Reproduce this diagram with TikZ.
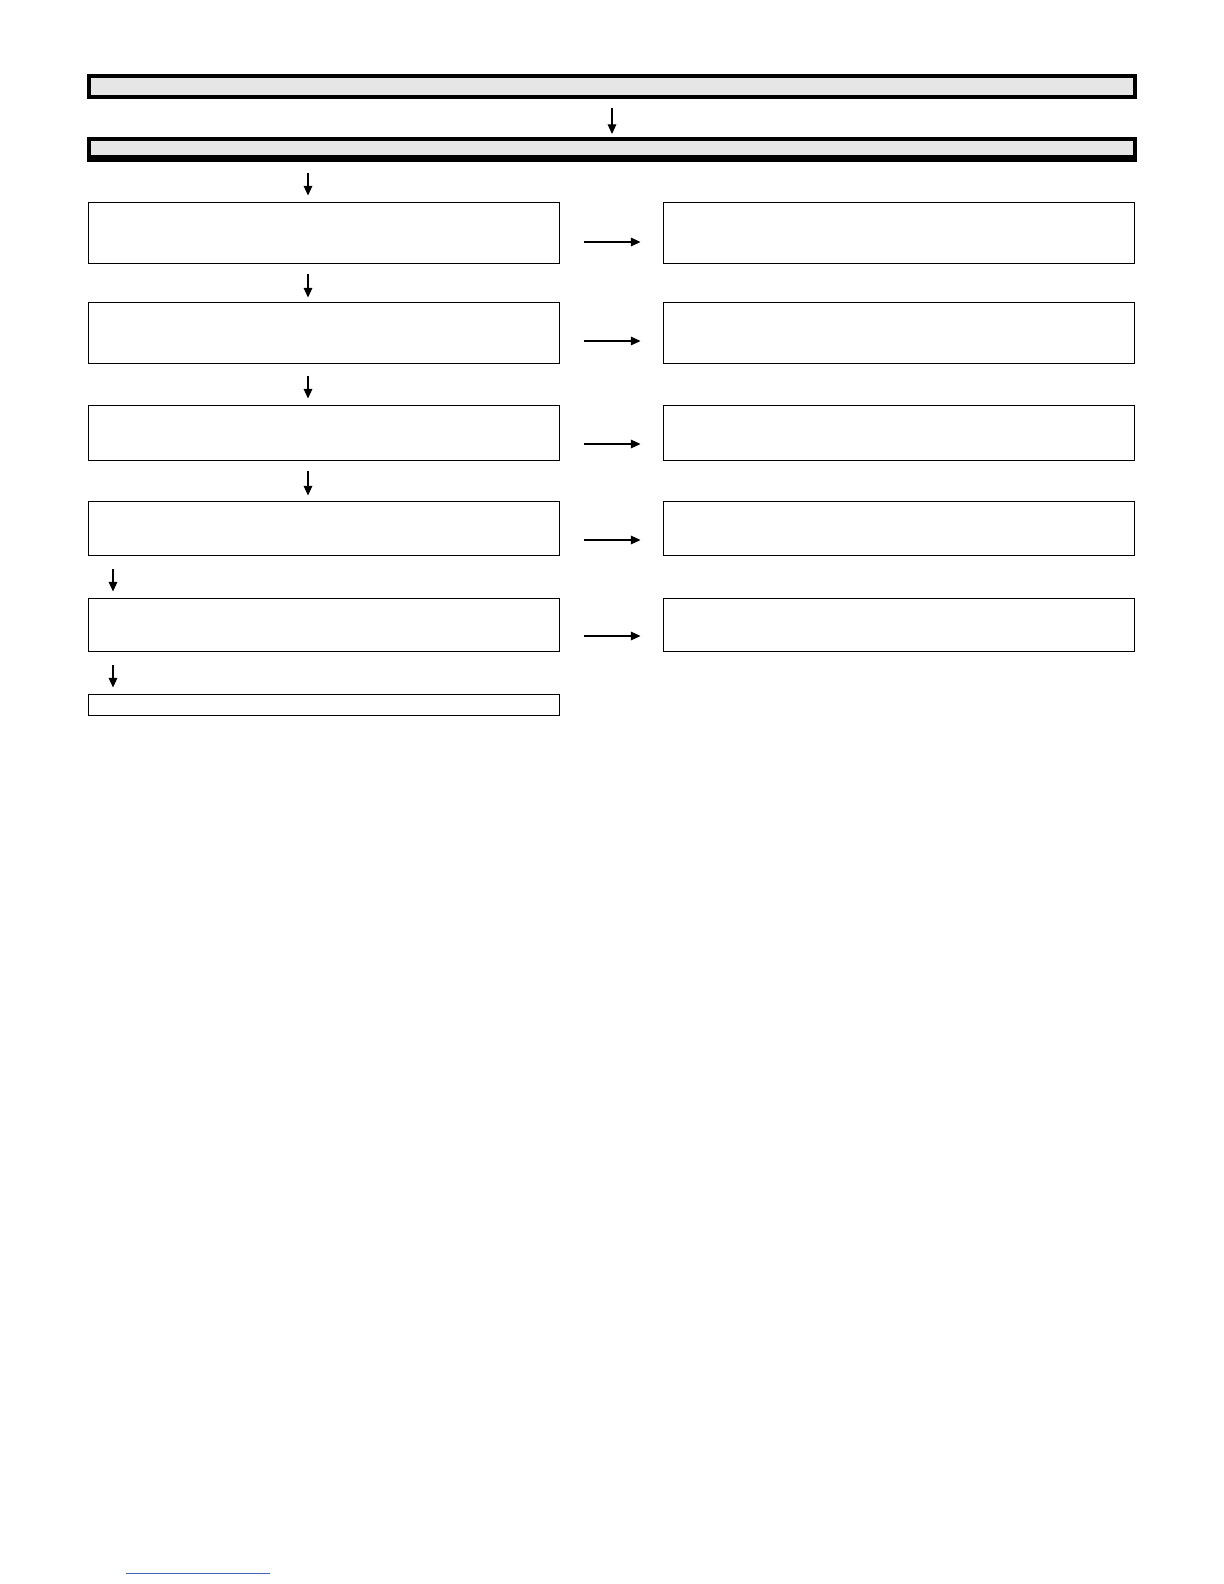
\documentclass[tikz,border=0pt]{standalone}
\usetikzlibrary{arrows.meta}
\definecolor{barfill}{RGB}{230,230,230}
\definecolor{linkblue}{RGB}{70,100,190}
\tikzset{
  bar/.style={draw=black, fill=barfill, line width=2pt, inner sep=0pt, outer sep=0pt,
    minimum width=523pt, minimum height=#1},
  stepbox/.style={draw=black, line width=0.75pt, inner sep=0pt, outer sep=0pt,
    minimum width=235.5pt, minimum height=#1},
  arr/.style={line width=0.6pt, -{Triangle[width=4.3pt,length=4.8pt]}},
}
\begin{document}
\begin{tikzpicture}[x=0.5pt,y=-0.5pt]
\useasboundingbox[fill=white] (0,0) rectangle (1224,1584);
% header bars
\node[bar=10.5pt] (top) at (612,86.5) {};
\node[bar=9pt] (sec) at (612,148) {};
\draw[line width=1.5pt] (87,160.5) -- (1137,160.5);
% left column
\node[stepbox=30.5pt] (L1) at (324,233) {};
\node[stepbox=30.5pt] (L2) at (324,333) {};
\node[stepbox=27.5pt] (L3) at (324,433) {};
\node[stepbox=27pt]   (L4) at (324,528.5) {};
\node[stepbox=26.5pt] (L5) at (324,625) {};
\node[stepbox=10.5pt] (L6) at (324,705) {};
% right column
\node[stepbox=30.5pt] (R1) at (899,233) {};
\node[stepbox=30.5pt] (R2) at (899,333) {};
\node[stepbox=27.5pt] (R3) at (899,433) {};
\node[stepbox=27pt]   (R4) at (899,528.5) {};
\node[stepbox=26.5pt] (R5) at (899,625) {};
% guide coordinates
\coordinate (cm) at (612,0);
\coordinate (cl) at (308,0);
\coordinate (cs) at (113,0);
% vertical arrows
\draw[arr, shorten <=5.5pt, shorten >=2.5pt] (top.south -| cm) -- (sec.north -| cm);
\draw[arr, shorten <=5pt, shorten >=3.5pt] (0,163 -| cl) -- (L1.north -| cl);
\draw[arr, shorten <=5pt, shorten >=2.5pt] (L1.south -| cl) -- (L2.north -| cl);
\draw[arr, shorten <=6pt, shorten >=3.5pt] (L2.south -| cl) -- (L3.north -| cl);
\draw[arr, shorten <=5pt, shorten >=3pt] (L3.south -| cl) -- (L4.north -| cl);
\draw[arr, shorten <=6.5pt, shorten >=3.5pt] (L4.south -| cs) -- (L5.north -| cs);
\draw[arr, shorten <=6.5pt, shorten >=3.5pt] (L5.south -| cs) -- (L6.north -| cs);
% horizontal arrows
\draw[arr, shorten <=12pt, shorten >=11.5pt] ([yshift=-4.5pt]L1.east) -- ([yshift=-4.5pt]R1.west);
\draw[arr, shorten <=12pt, shorten >=11.5pt] ([yshift=-4pt]L2.east) -- ([yshift=-4pt]R2.west);
\draw[arr, shorten <=12pt, shorten >=11.5pt] ([yshift=-5.5pt]L3.east) -- ([yshift=-5.5pt]R3.west);
\draw[arr, shorten <=12pt, shorten >=11.5pt] ([yshift=-5.75pt]L4.east) -- ([yshift=-5.75pt]R4.west);
\draw[arr, shorten <=12pt, shorten >=11.5pt] ([yshift=-5.5pt]L5.east) -- ([yshift=-5.5pt]R5.west);
% footer link underline
\draw[linkblue, line width=0.5pt] (126,1573) -- (270,1573);
\end{tikzpicture}
\end{document}
